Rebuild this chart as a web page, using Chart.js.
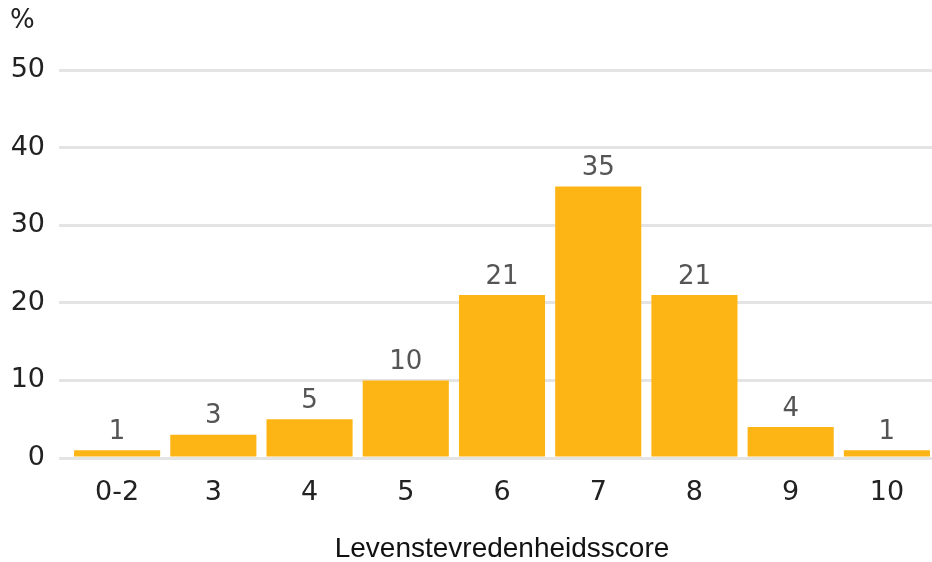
<!DOCTYPE html>
<html>
<head>
<meta charset="utf-8">
<script src="https://cdn.jsdelivr.net/npm/chart.js@4.4.1/dist/chart.umd.min.js"></script>
<style>
  html, body { margin: 0; padding: 0; background: #fff; overflow: hidden; }
  #wrap { width: 935px; height: 562px; }
</style>
</head>
<body>
<div id="wrap"><canvas id="c"></canvas></div>
<script>
const categories = ['0-2', '3', '4', '5', '6', '7', '8', '9', '10'];
const percentages = [1, 3, 5, 10, 21, 35, 21, 4, 1];
const yTicks = [0, 10, 20, 30, 40, 50];

const barColor = '#FDB515';
const tickFont = { family: '"DejaVu Sans"', size: 27 };

// Writes each bar's value just above its top edge
const valueLabels = {
  id: 'valueLabels',
  afterDatasetsDraw(chart) {
    const ctx = chart.ctx;
    const meta = chart.getDatasetMeta(0);
    ctx.save();
    ctx.font = '26px "DejaVu Sans"';
    ctx.fillStyle = '#555555';
    ctx.textAlign = 'center';
    ctx.textBaseline = 'bottom';
    meta.data.forEach((bar, i) => {
      ctx.fillText(String(percentages[i]), bar.x, bar.y - 5);
    });
    ctx.restore();
  }
};

new Chart(document.getElementById('c'), {
  type: 'bar',
  data: {
    labels: categories,
    datasets: [{
      data: percentages,
      backgroundColor: barColor,
      borderWidth: 0,
      categoryPercentage: 1.0,
      barPercentage: 0.895
    }]
  },
  options: {
    responsive: true,
    maintainAspectRatio: false,
    animation: false,
    layout: { padding: { left: 10, right: 0, top: 6, bottom: -4 } },
    plugins: {
      legend: { display: false },
      tooltip: { enabled: false },
      title: {
        display: true,
        text: '%',
        align: 'start',
        color: '#222222',
        font: { family: '"DejaVu Sans"', size: 26, weight: 'normal' },
        padding: { top: 0, bottom: 33 }
      }
    },
    scales: {
      x: {
        grid: { display: false, drawTicks: false },
        border: { display: false },
        ticks: { color: '#222222', font: tickFont, padding: 19 },
        title: {
          display: true,
          text: 'Levenstevredenheidsscore',
          color: '#111111',
          font: { family: '"Liberation Sans"', size: 28 },
          padding: { top: 4, bottom: 0 }
        }
      },
      y: {
        min: 0,
        max: 50,
        afterBuildTicks(scale) {
          scale.ticks = yTicks.map(v => ({ value: v }));
        },
        afterFit(scale) {
          scale.width = 59;
        },
        grid: { color: '#e4e4e4', lineWidth: 3, tickLength: 10 },
        border: { display: false },
        ticks: { color: '#222222', font: tickFont, padding: 14 }
      }
    }
  },
  plugins: [valueLabels]
});
</script>
</body>
</html>
